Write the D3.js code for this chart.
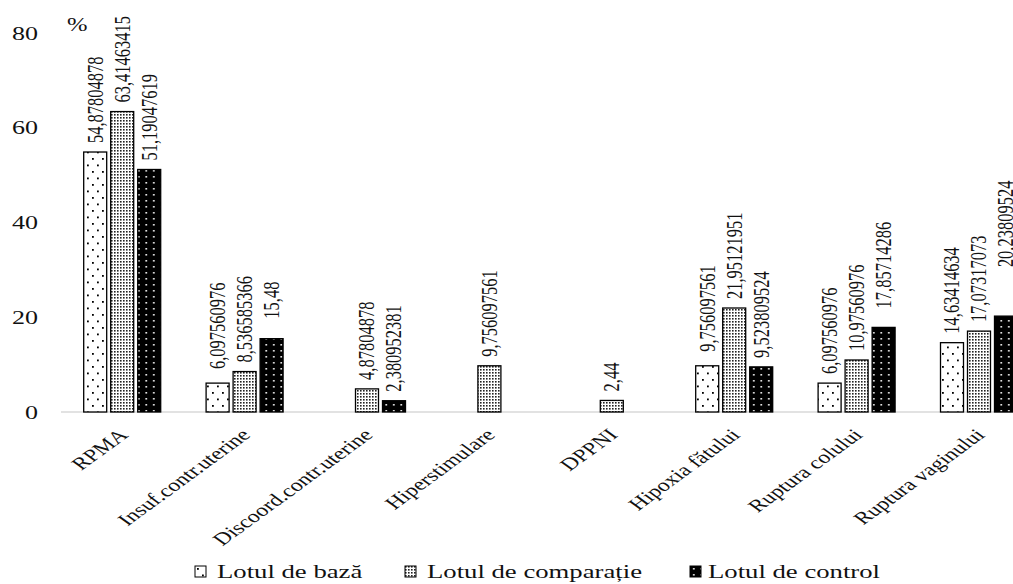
<!DOCTYPE html>
<html>
<head>
<meta charset="utf-8">
<script src="https://cdn.jsdelivr.net/npm/d3@7"></script>
<style>
body { margin: 0; background: #fff; overflow: hidden; }
text { font-family: "Liberation Serif", "Times New Roman", serif; fill: #111; }
</style>
</head>
<body>
<svg id="svg"></svg>
<script>
var categories = ["RPMA", "Insuf.contr.uterine", "Discoord.contr.uterine", "Hiperstimulare",
	"DPPNI", "Hipoxia fătului", "Ruptura colului", "Ruptura vaginului"];
var seriesNames = ["Lotul de bază", "Lotul de comparație", "Lotul de control"];
var lotBaza = [54.87804878, 6.097560976, 0, 0, 0, 9.756097561, 6.097560976, 14.63414634];
var lotComparatie = [63.41463415, 8.536585366, 4.87804878, 9.756097561, 2.44, 21.95121951, 10.97560976, 17.07317073];
var lotControl = [51.19047619, 15.48, 2.380952381, 0, 0, 9.523809524, 17.85714286, 20.23809524];
var yTicks = [0, 20, 40, 60, 80];

var width = 1013, height = 584;
// the picture was stretched sideways, so every text gets this x scale
var sx = 1.37;

var svg = d3.select("#svg").attr("width", width).attr("height", height);

var x = d3.scaleBand().domain(categories).range([61, 61 + 8 * 122.4]);
var inner = d3.scaleBand().domain([0, 1, 2]).range([-38.5, 38.5]).paddingInner(4 / 27);
var y = d3.scaleLinear().domain([0, 80]).range([412, 33]);

var series = [lotBaza, lotComparatie, lotControl];
var patternIds = ["pBaza", "pComp", "pCtrl"];

//////////////////////////////////////////////////////////////////////////////
// fill patterns
var defs = svg.append("defs");

var p0 = defs.append("pattern").attr("id", "pBaza")
	.attr("patternUnits", "userSpaceOnUse").attr("width", 10).attr("height", 13);
p0.append("rect").attr("width", 10).attr("height", 13).attr("fill", "#fff");
p0.append("rect").attr("x", 2).attr("y", 2).attr("width", 1.8).attr("height", 1.8).attr("fill", "#000");
p0.append("rect").attr("x", 7).attr("y", 8.5).attr("width", 1.8).attr("height", 1.8).attr("fill", "#000");

var p1 = defs.append("pattern").attr("id", "pComp")
	.attr("patternUnits", "userSpaceOnUse").attr("width", 3).attr("height", 3);
p1.append("rect").attr("width", 3).attr("height", 3).attr("fill", "#fff");
p1.append("rect").attr("width", 1.6).attr("height", 1.6).attr("fill", "#222");

var p2 = defs.append("pattern").attr("id", "pCtrl")
	.attr("patternUnits", "userSpaceOnUse").attr("width", 7.5).attr("height", 6);
p2.append("rect").attr("width", 7.5).attr("height", 6).attr("fill", "#000");
p2.append("rect").attr("x", 3).attr("y", 2).attr("width", 1.6).attr("height", 1.6).attr("fill", "#fff");

//////////////////////////////////////////////////////////////////////////////
// axis

svg.append("line")
	.attr("x1", 61).attr("x2", width)
	.attr("y1", y(0)).attr("y2", y(0))
	.attr("stroke", "#d9d9d9").attr("stroke-width", 1.3);

svg.selectAll("text.ytick")
	.data(yTicks)
	.enter()
	.append("text")
	.attr("class", "ytick")
	.attr("transform", function(d) { return "translate(38," + y(d) + ") scale(" + sx + ",1)"; })
	.attr("dy", "0.35em")
	.attr("text-anchor", "end")
	.style("font-size", "19px")
	.text(function(d) { return d; });

svg.append("text")
	.attr("transform", "translate(67,31) scale(" + sx + ",1)")
	.style("font-size", "18px")
	.text("%");

svg.selectAll("text.cat")
	.data(categories)
	.enter()
	.append("text")
	.attr("class", "cat")
	.attr("transform", function(d) {
		var cx = x(d) + x.bandwidth() / 2;
		return "translate(" + (cx + 7) + ",436) scale(" + sx + ",1) rotate(-45)";
	})
	.attr("text-anchor", "end")
	.style("font-size", "17.5px")
	.text(function(d) { return d; });

//////////////////////////////////////////////////////////////////////////////
// bars and labels

// labels that sit higher than the default gap
var labelNudge = { "0-1": 5, "0-5": 5, "2-1": 11, "2-6": 10, "2-7": 40 };

function barList() {
	var lst = [];
	for (var s = 0; s < series.length; ++s) {
		for (var c = 0; c < categories.length; ++c) {
			if (series[s][c] > 0)
				lst.push({ s: s, c: c, value: series[s][c] });
		}
	}
	return lst;
}
var bars = barList();

function barX(d) {
	return x(categories[d.c]) + x.bandwidth() / 2 + inner(d.s);
}

svg.selectAll("rect.bar")
	.data(bars)
	.enter()
	.append("rect")
	.attr("class", "bar")
	.attr("x", barX)
	.attr("width", inner.bandwidth())
	.attr("y", function(d) { return y(d.value); })
	.attr("height", function(d) { return y(0) - y(d.value); })
	.attr("fill", function(d) { return "url(#" + patternIds[d.s] + ")"; })
	.attr("stroke", "#000")
	.attr("stroke-width", 1.3);

svg.selectAll("text.val")
	.data(bars)
	.enter()
	.append("text")
	.attr("class", "val")
	.attr("transform", function(d) {
		var cx = barX(d) + inner.bandwidth() / 2;
		var nudge = labelNudge[d.s + "-" + d.c] || 0;
		return "translate(" + cx + "," + (y(d.value) - 9 - nudge) + ") scale(" + sx + ",1) rotate(-90)";
	})
	.attr("dy", "0.33em")
	.style("font-size", "16.5px")
	.text(function(d) { return String(d.value).replace(".", ","); });

//////////////////////////////////////////////////////////////////////////////
// legend

var legendX = [195, 405, 690];
var legendTextX = [22, 22, 18];
var leg = svg.selectAll("g.leg")
	.data(seriesNames)
	.enter()
	.append("g")
	.attr("class", "leg")
	.attr("transform", function(d, i) { return "translate(" + legendX[i] + ",566)"; });

leg.append("rect")
	.attr("width", 11).attr("height", 11)
	.attr("fill", function(d, i) { return "url(#" + patternIds[i] + ")"; })
	.attr("stroke", "#000").attr("stroke-width", 1);

leg.append("text")
	.attr("transform", function(d, i) { return "translate(" + legendTextX[i] + ",12) scale(" + sx + ",1)"; })
	.style("font-size", "19.5px")
	.text(function(d) { return d; });
</script>
</body>
</html>
